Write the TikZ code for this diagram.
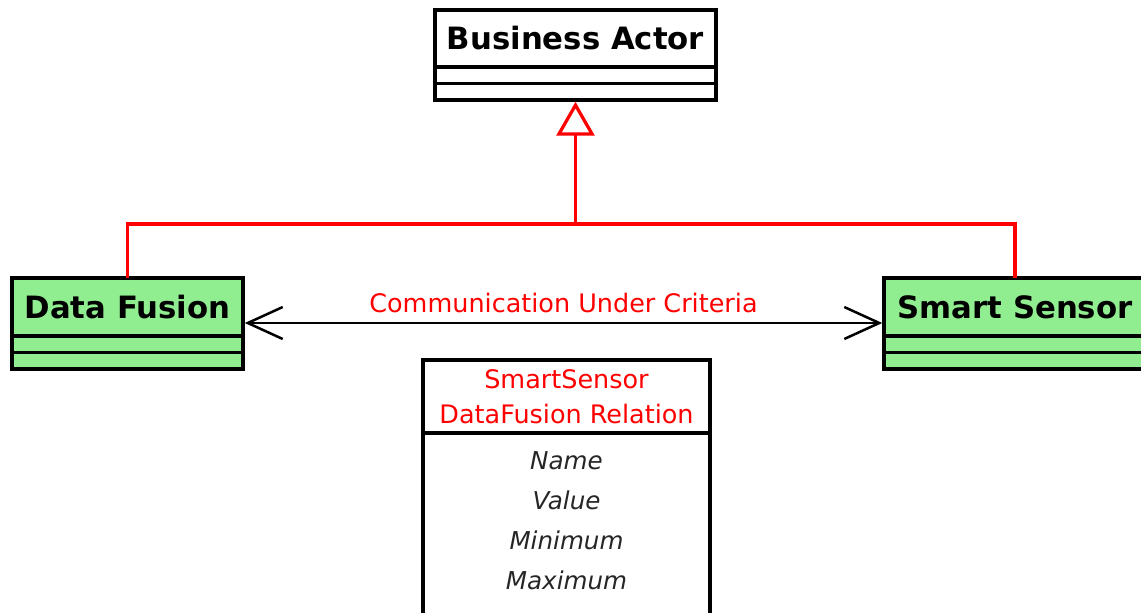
\documentclass[tikz,border=0pt]{standalone}
\usepackage{fontspec}
\setmainfont{DejaVu Sans}
\usetikzlibrary{positioning,arrows.meta}
\definecolor{classgreen}{HTML}{90EE90}

\begin{document}
\begin{tikzpicture}[
			x=0.02cm, y=-0.02cm,
			classname/.style={draw=black, line width=0.7mm, font=\fontsize{17.5}{20}\selectfont\bfseries, minimum height=1.16cm, inner sep=0pt, outer sep=0pt},
			compartment/.style={draw=black, line width=0.7mm, minimum height=0.33cm, inner sep=0pt, outer sep=0pt},
			relhead/.style={draw=black, line width=0.7mm, text=red, font=\fontsize{14.5}{19.8}\selectfont, align=center, minimum width=5.74cm, minimum height=1.46cm, inner sep=0pt, outer sep=0pt},
			realize/.style={draw=red, line width=0.65mm},
			assoc/.style={draw=black, line width=0.5mm},
		]
		
			\useasboundingbox (0,0) rectangle (1141,612);
		
			%Classes
			\node[classname, minimum width=5.62cm, minimum height=1.14cm]	(actor) at (575.5,38.5)	{Business Actor};
			\node[compartment, minimum width=5.62cm]	(actor1)[below=0pt of actor]	{};
			\node[compartment, minimum width=5.62cm]	(actor2)[below=0pt of actor1]	{};
		
			\node[classname, fill=classgreen, minimum width=4.62cm]	(fusion) at (127.5,307)	{Data Fusion};
			\node[compartment, fill=classgreen, minimum width=4.62cm]	(fusion1)[below=0pt of fusion]	{};
			\node[compartment, fill=classgreen, minimum width=4.62cm]	(fusion2)[below=0pt of fusion1]	{};
		
			\node[classname, fill=classgreen, minimum width=5.24cm]	(sensor) at (1015,307)	{Smart Sensor};
			\node[compartment, fill=classgreen, minimum width=5.24cm]	(sensor1)[below=0pt of sensor]	{};
			\node[compartment, fill=classgreen, minimum width=5.24cm]	(sensor2)[below=0pt of sensor1]	{};
		
			%Relation class
			\node[relhead]	(relation) at (566.5,396.5)	{SmartSensor\\DataFusion Relation};
			\node[compartment, minimum width=5.74cm, minimum height=3.8cm]	(relbody)[below=0pt of relation]	{};
			\node[font=\fontsize{14}{22.7}\selectfont\itshape, text=black!85, align=center, inner sep=0pt]	(attrs) at (566.5,521)	{Name\\Value\\Minimum\\Maximum};
		
			%Lines
			\coordinate (join) at (575.5,224);
			\draw[realize]	(fusion.north) |- (join) -| (sensor.north);
			\draw[realize, -{Triangle[open, length=6.8mm, width=7.6mm]}]	(join) -- ([yshift=-1pt]actor2.south);
			\draw[assoc, {Straight Barb[length=7mm, width=6.4mm]}-{Straight Barb[length=7mm, width=6.4mm]}]	([yshift=-0.32cm,xshift=1pt]fusion.east) -- node[above=2pt, text=red, font=\fontsize{14.5}{17}\selectfont] (comm) {Communication Under Criteria} ([yshift=-0.32cm,xshift=-1pt]sensor.west);
		
		\end{tikzpicture}
\end{document}
